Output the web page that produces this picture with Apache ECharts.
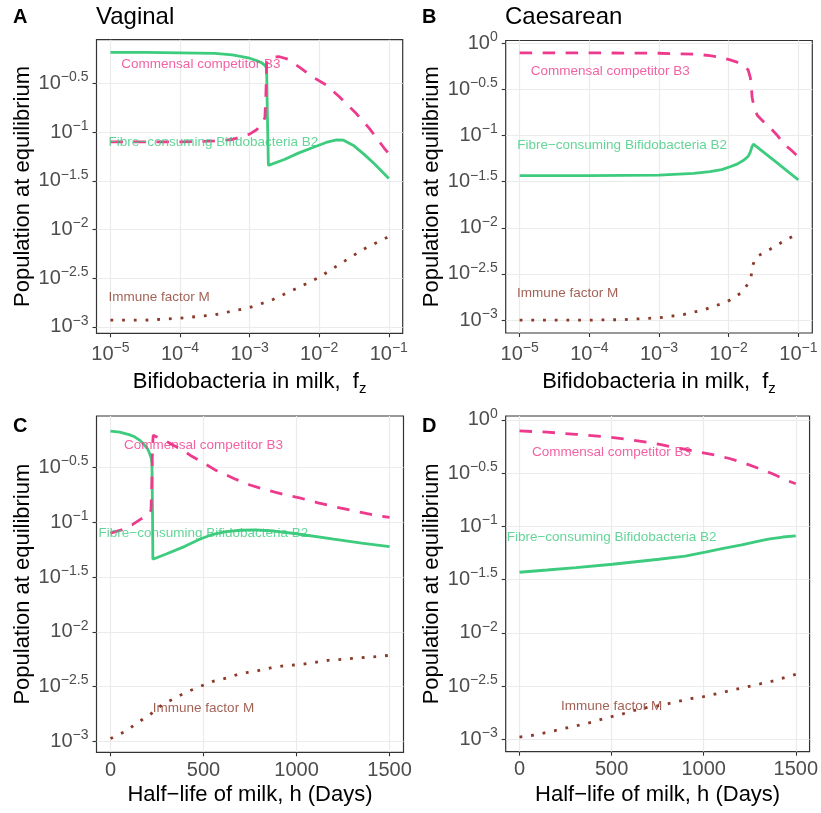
<!DOCTYPE html>
<html><head><meta charset="utf-8">
<script src="https://cdn.jsdelivr.net/npm/echarts@6/dist/echarts.min.js"></script>
<style>html,body{margin:0;padding:0;background:#fff}#c{width:821px;height:813px}</style>
</head><body><div id="c"></div>
<script>
// ===== DATA (all population values are log10 exponents; x of A/B is log10 f_z) =====
// Panel A – Vaginal, x = log10(f_z)
const A_B2_x = [-5,-4.5,-4,-3.5,-3.25,-3.0,-2.9,-2.82,-2.77,-2.755,-2.745,-2.73,-2.5,-2.3,-2.1,-1.9,-1.75,-1.65,-1.5,-1.35,-1.2,-1];
const A_B2_y = [-0.18,-0.18,-0.185,-0.19,-0.205,-0.24,-0.265,-0.29,-0.32,-0.36,-0.8,-1.34,-1.28,-1.215,-1.16,-1.105,-1.078,-1.082,-1.14,-1.23,-1.33,-1.476];
const A_B3_x = [-5,-4.5,-4,-3.5,-3.25,-3.0,-2.9,-2.82,-2.78,-2.765,-2.755,-2.74,-2.65,-2.57,-2.45,-2.26,-2.1,-1.9,-1.71,-1.47,-1.28,-1.065,-1];
const A_B3_y = [-1.10,-1.10,-1.10,-1.09,-1.075,-1.02,-0.975,-0.91,-0.85,-0.6,-0.3,-0.25,-0.228,-0.225,-0.25,-0.344,-0.43,-0.515,-0.636,-0.806,-0.96,-1.165,-1.22];
const A_M_x = [-5,-4.5,-4,-3.5,-3.0,-2.7,-2.4,-2.0,-1.65,-1.36,-1.05,-1];
const A_M_y = [-2.93,-2.93,-2.91,-2.875,-2.80,-2.73,-2.63,-2.49,-2.33,-2.20,-2.09,-2.07];
// Panel B – Caesarean
const B_B2_x = [-5,-4,-3,-2.5,-2.27,-2.1,-1.98,-1.88,-1.78,-1.72,-1.69,-1.665,-1.645,-1.5,-1.3,-1.1,-1];
const B_B2_y = [-1.435,-1.435,-1.428,-1.41,-1.392,-1.37,-1.338,-1.31,-1.266,-1.225,-1.18,-1.12,-1.094,-1.18,-1.30,-1.42,-1.48];
const B_B3_x = [-5,-4,-3,-2.5,-2.27,-2.1,-1.98,-1.88,-1.78,-1.72,-1.69,-1.675,-1.665,-1.64,-1.59,-1.5,-1.4,-1.3,-1.21,-1.1,-1];
const B_B3_y = [-0.104,-0.104,-0.108,-0.118,-0.133,-0.155,-0.18,-0.205,-0.24,-0.29,-0.37,-0.45,-0.58,-0.68,-0.78,-0.85,-0.92,-1.0,-1.09,-1.16,-1.23];
const B_M_x = [-5,-4,-3.5,-3,-2.65,-2.36,-2.02,-1.83,-1.78,-1.72,-1.68,-1.66,-1.65,-1.62,-1.59,-1.5,-1.4,-1.2,-1];
const B_M_y = [-3.0,-3.0,-2.995,-2.975,-2.94,-2.89,-2.80,-2.71,-2.67,-2.60,-2.53,-2.45,-2.40,-2.33,-2.31,-2.27,-2.23,-2.14,-2.06];
// Panel C – Vaginal, x = half-life (days)
const C_B2_x = [0,50,100,130,160,180,200,210,218,223,226,228,300,400,480,550,620,700,780,880,1000,1200,1350,1500];
const C_B2_y = [-0.169,-0.178,-0.20,-0.22,-0.255,-0.29,-0.33,-0.37,-0.41,-0.46,-0.9,-1.338,-1.29,-1.22,-1.155,-1.11,-1.085,-1.073,-1.07,-1.08,-1.105,-1.155,-1.19,-1.223];
const C_B3_x = [0,60,120,169,205,218,223,226,230,260,300,340,376,430,492,560,663,750,842,930,1022,1110,1202,1320,1435,1500];
const C_B3_y = [-1.10,-1.07,-1.02,-0.965,-0.93,-0.89,-0.6,-0.3,-0.205,-0.23,-0.26,-0.30,-0.327,-0.39,-0.45,-0.52,-0.60,-0.66,-0.707,-0.745,-0.78,-0.82,-0.858,-0.90,-0.94,-0.956];
const C_M_x = [0,80,145,210,275,340,410,480,555,630,700,780,860,935,1015,1095,1170,1250,1325,1400,1500];
const C_M_y = [-2.975,-2.91,-2.83,-2.76,-2.67,-2.61,-2.55,-2.50,-2.45,-2.42,-2.38,-2.36,-2.33,-2.31,-2.30,-2.28,-2.26,-2.25,-2.24,-2.23,-2.215];
// Panel D – Caesarean
const D_B2_x = [0,150,307,505,757,900,1009,1100,1207,1280,1351,1430,1500];
const D_B2_y = [-1.431,-1.41,-1.387,-1.356,-1.309,-1.28,-1.243,-1.21,-1.174,-1.145,-1.12,-1.10,-1.09];
const D_B3_x = [0,150,307,450,577,700,775,880,991,1060,1135,1220,1297,1380,1459,1500];
const D_B3_y = [-0.103,-0.115,-0.135,-0.155,-0.18,-0.21,-0.235,-0.27,-0.307,-0.33,-0.36,-0.405,-0.454,-0.51,-0.573,-0.60];
const D_M_x = [0,83,164,239,317,394,469,545,622,698,772,847,924,1000,1077,1153,1228,1306,1383,1459,1500];
const D_M_y = [-2.98,-2.96,-2.93,-2.90,-2.87,-2.84,-2.80,-2.77,-2.73,-2.70,-2.68,-2.65,-2.62,-2.60,-2.57,-2.54,-2.51,-2.48,-2.45,-2.41,-2.39];

// annotation labels [x, y(log10)] per panel
const labelNames = ['Commensal competitor B3','Fibre\u2212consuming Bifidobacteria B2','Immune factor M'];
const A_lab = [[-3.70,-0.30],[-3.52,-1.10],[-4.30,-2.70]];
const B_lab = [[-3.70,-0.306],[-3.53,-1.11],[-4.31,-2.705]];
const C_lab = [[500,-0.296],[500,-1.10],[500,-2.696]];
const D_lab = [[500,-0.304],[500,-1.10],[500,-2.69]];

// tick values
const xTicksLog = [-5,-4,-3,-2,-1];
const xTicksDays = [0,500,1000,1500];
const yTicksAC = [-3,-2.5,-2,-1.5,-1,-0.5];
const yTicksBD = [-3,-2.5,-2,-1.5,-1,-0.5,0];

// ===== STYLE =====
const FONT = '"Liberation Sans", Arial, Helvetica, sans-serif';
const GREEN = '#3DCB7E', PINK = '#EE3A8C', BROWN = '#8B3A2A';
const zip = (xs, ys) => xs.map((x, i) => [x, ys[i]]);
const expText = e => (e < 0 ? '\u2212' : '') + Math.abs(e);
const powRich = {
  b: {fontSize: 20, fontFamily: FONT, color: '#4D4D4D', lineHeight: 26},
  s: {fontSize: 14, fontFamily: FONT, color: '#4D4D4D', verticalAlign: 'top'}
};
const powFmt = v => '{b|10}{s|' + expText(v) + '}';

const grids = [
  {left: 96.5, top: 39.7, width: 306.2, height: 293.6},
  {left: 505.7, top: 40.5, width: 306.6, height: 292.5},
  {left: 96.5, top: 416, width: 307, height: 336.3},
  {left: 505.7, top: 416, width: 306.6, height: 335.7}
].map(g => Object.assign(g, {show: true, borderColor: '#333333', borderWidth: 1.2, backgroundColor: 'transparent', containLabel: false}));

const yRanges = [[-3.065,-0.05],[-3.14,0.03],[-3.1,-0.03],[-3.117,0.037]];
const yTickSets = [yTicksAC, yTicksBD, yTicksAC, yTicksBD];

const yAxes = yRanges.map((r, i) => ({
  type: 'value', gridIndex: i, min: r[0], max: r[1], position: 'left',
  name: 'Population at equilibrium', nameLocation: 'middle', nameRotate: 90, nameGap: 63,
  nameTextStyle: {fontSize: 22, fontFamily: FONT, color: '#000'},
  axisLine: {show: false, onZero: false},
  axisTick: {show: true, length: 4, customValues: yTickSets[i], lineStyle: {color: '#333', width: 1.1}},
  axisLabel: {customValues: yTickSets[i], formatter: powFmt, rich: powRich, margin: 8},
  splitLine: {show: true, lineStyle: {color: '#EBEBEB', width: 1.2}}
}));

const xNameLog = '{t|Bifidobacteria in milk,  f}{z|z}';
const xNameRich = {
  t: {fontSize: 22, fontFamily: FONT, color: '#000', lineHeight: 28},
  z: {fontSize: 15, fontFamily: FONT, color: '#000', verticalAlign: 'bottom'}
};
const xAxes = [0,1,2,3].map(i => {
  const isLog = i < 2;
  return {
    type: 'value', gridIndex: i, position: 'bottom',
    min: isLog ? -5.2 : -75, max: isLog ? -0.8 : 1575,
    name: isLog ? xNameLog : 'Half\u2212life of milk, h (Days)',
    nameLocation: 'middle', nameGap: isLog ? 35 : 32,
    nameTextStyle: isLog ? {rich: xNameRich} : {fontSize: 22, fontFamily: FONT, color: '#000'},
    axisLine: {show: false, onZero: false},
    axisTick: {show: true, length: 4, customValues: isLog ? xTicksLog : xTicksDays, lineStyle: {color: '#333', width: 1.1}},
    axisLabel: isLog
      ? {customValues: xTicksLog, formatter: powFmt, rich: powRich, margin: 8}
      : {customValues: xTicksDays, formatter: v => String(v), fontSize: 20, fontFamily: FONT, color: '#4D4D4D', margin: 8},
    splitLine: {show: true, lineStyle: {color: '#EBEBEB', width: 1.2}}
  };
});

const panels = [
  [A_B2_x, A_B2_y, A_B3_x, A_B3_y, A_M_x, A_M_y, A_lab],
  [B_B2_x, B_B2_y, B_B3_x, B_B3_y, B_M_x, B_M_y, B_lab],
  [C_B2_x, C_B2_y, C_B3_x, C_B3_y, C_M_x, C_M_y, C_lab],
  [D_B2_x, D_B2_y, D_B3_x, D_B3_y, D_M_x, D_M_y, D_lab]
];
const labColors = [PINK, GREEN, BROWN];
const series = [];
panels.forEach((p, i) => {
  const base = {type: 'line', xAxisIndex: i, yAxisIndex: i, showSymbol: false, symbol: 'none', silent: true, clip: true};
  series.push(Object.assign({}, base, {data: zip(p[0], p[1]), lineStyle: {color: GREEN, width: 2.8}, z: 2}));
  series.push(Object.assign({}, base, {data: zip(p[2], p[3]), lineStyle: {color: PINK, width: 2.8, type: [12.5, 10.5]}, z: 3}));
  series.push(Object.assign({}, base, {data: zip(p[4], p[5]), lineStyle: {color: BROWN, width: 2.8, type: [2.8, 8.9]}, z: 3}));
  series.push({
    type: 'scatter', xAxisIndex: i, yAxisIndex: i, symbolSize: 0, silent: true, z: 5,
    data: p[6].map((c, k) => ({value: [c[0], c[1], labelNames[k]], label: {color: labColors[k]}})),
    label: {show: true, position: 'inside', formatter: d => d.value[2], fontSize: 13.5, fontFamily: FONT}
  });
});

const txt = (text, x, y, size, weight) => ({
  type: 'text', x: x, y: y, silent: true,
  style: {text: text, fontSize: size, fontWeight: weight, fontFamily: FONT, fill: '#000', align: 'left', verticalAlign: 'middle'}
});

const chart = echarts.init(document.getElementById('c'), null, {renderer: 'canvas'});
chart.setOption({
  animation: false,
  backgroundColor: '#fff',
  grid: grids, xAxis: xAxes, yAxis: yAxes, series: series,
  graphic: [
    txt('A', 13, 17, 20, 'bold'),
    txt('Vaginal', 96, 17, 24, 'normal'),
    txt('B', 422, 17, 20, 'bold'),
    txt('Caesarean', 505, 17, 24, 'normal'),
    txt('C', 13, 426, 20, 'bold'),
    txt('D', 422, 426, 20, 'bold')
  ]
});
</script></body></html>
